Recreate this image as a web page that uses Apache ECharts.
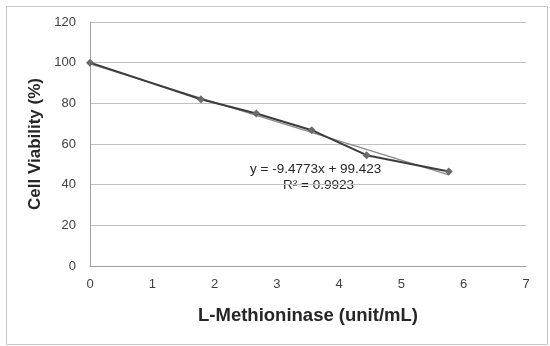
<!DOCTYPE html>
<html><head><meta charset="utf-8">
<script src="https://cdn.jsdelivr.net/npm/echarts@6/dist/echarts.min.js"></script>
<style>html,body{margin:0;padding:0;background:#fff}#c{width:550px;height:346px}</style>
</head><body><div id="c"></div>
<script>
const concentrations = [0, 1.78, 2.67, 3.56, 4.44, 5.76];
const viability = [100, 82, 75, 66.8, 54.5, 46.5];
const trendSlope = -9.4773;
const trendIntercept = 99.423;
const trendEquation = 'y = -9.4773x + 99.423';
const trendR2 = 'R² = 0.9923';
const xTitle = 'L-Methioninase (unit/mL)';
const yTitle = 'Cell Viability (%)';

const dataPts = concentrations.map((x, i) => [x, viability[i]]);
const xEnd = concentrations[concentrations.length - 1];
const trendPts = [[0, trendIntercept], [xEnd, trendIntercept + trendSlope * xEnd]];

const chart = echarts.init(document.getElementById('c'));
const font = 'Liberation Sans, Arial, sans-serif';
chart.setOption({
  animation: false,
  grid: {left: 90, right: 24, top: 22, bottom: 80},
  xAxis: {
    type: 'value', min: 0, max: 7, interval: 1,
    axisLine: {show: true, lineStyle: {color: '#a0a0a0'}},
    axisTick: {show: false},
    splitLine: {show: false},
    axisLabel: {color: '#404040', fontSize: 13, fontFamily: font, margin: 12},
    name: xTitle, nameLocation: 'middle', nameGap: 40,
    nameTextStyle: {fontSize: 18.5, fontWeight: 'bold', color: '#262626', fontFamily: font}
  },
  yAxis: {
    type: 'value', min: 0, max: 120, interval: 20,
    axisLine: {show: true, lineStyle: {color: '#a0a0a0'}},
    axisTick: {show: false},
    splitLine: {show: true, lineStyle: {color: '#c0c0c0'}},
    axisLabel: {color: '#404040', fontSize: 13, fontFamily: font, margin: 14},
    name: yTitle, nameLocation: 'middle', nameGap: 43,
    nameTextStyle: {fontSize: 17, fontWeight: 'bold', color: '#262626', fontFamily: font}
  },
  series: [
    {
      type: 'line', data: trendPts, symbol: 'none',
      lineStyle: {color: '#8a8a8a', width: 1.2}, z: 2
    },
    {
      type: 'line', data: dataPts, symbol: 'diamond', symbolSize: 8,
      itemStyle: {color: '#6a6a6a'},
      lineStyle: {color: '#3c3c3c', width: 2}, z: 3
    }
  ],
  graphic: [
    {type: 'rect', left: 4, top: 4, shape: {width: 541, height: 338},
     style: {fill: 'none', stroke: '#c8c8c8', lineWidth: 1}, silent: true},
    {type: 'text', left: 250, top: 162, style: {text: trendEquation, font: '13.5px ' + font, fill: '#262626'}},
    {type: 'text', left: 283, top: 178, style: {text: trendR2, font: '13.5px ' + font, fill: '#262626'}}
  ]
});
</script></body></html>
